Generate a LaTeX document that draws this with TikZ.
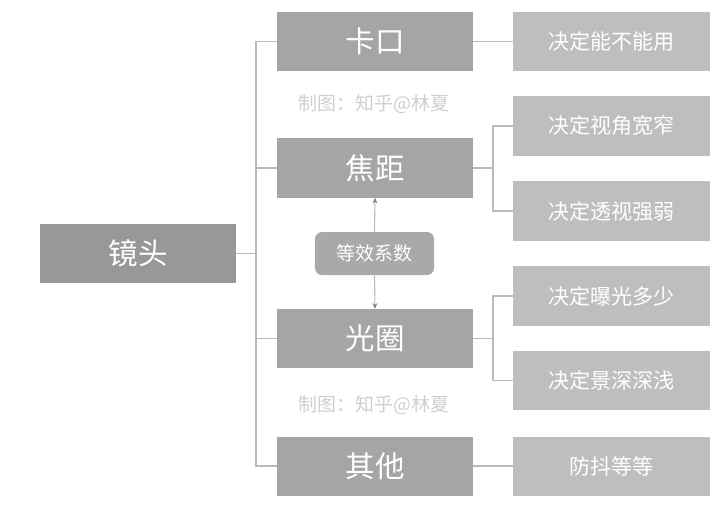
\documentclass[tikz,border=0pt]{standalone}
\usepackage{fontspec}
\setmainfont{Noto Sans CJK SC}
\usetikzlibrary{arrows.meta}

\definecolor{lensgray}{HTML}{989898}
\definecolor{maingray}{HTML}{A5A5A5}
\definecolor{subgray}{HTML}{BEBEBE}
\definecolor{eqgray}{HTML}{A9A9A9}
\definecolor{linegray}{HTML}{BBBBBB}
\definecolor{markgray}{HTML}{CFCFCF}

\begin{document}
\begin{tikzpicture}[x=0.025cm, y=-0.025cm,
	box/.style={inner sep=0pt, text=white, minimum width=4.9cm, minimum height=1.475cm},
	lensbox/.style={box, fill=lensgray, font=\fontsize{21}{24}\selectfont},
	mainbox/.style={box, fill=maingray, font=\fontsize{21}{24}\selectfont},
	subbox/.style={box, fill=subgray, font=\fontsize{15}{18}\selectfont},
	eqbox/.style={fill=eqgray, text=white, rounded corners=5pt, minimum width=2.975cm, minimum height=1.075cm, inner sep=0pt, font=\fontsize{13.5}{16}\selectfont},
	branch/.style={draw=linegray, line width=1.2pt},
	link/.style={draw=linegray, line width=0.8pt, -{Stealth[length=4pt, width=3.5pt, color=gray]}},
	watermark/.style={text=markgray, font=\fontsize{13.5}{16}\selectfont}]
	\useasboundingbox (0,0) rectangle (720,507);
	% root
	\node[lensbox] (lens) at (138,253.5) {镜头};
	% first level
	\node[mainbox] (mount) at (375,41.5) {卡口};
	\node[mainbox] (focal) at (375,168) {焦距};
	\node[mainbox] (aperture) at (375,338.5) {光圈};
	\node[mainbox] (other) at (375,466) {其他};
	% second level
	\node[subbox] (usable) at (611.5,41.5) {决定能不能用};
	\node[subbox] (angle) at (611.5,126) {决定视角宽窄};
	\node[subbox] (persp) at (611.5,211) {决定透视强弱};
	\node[subbox] (expo) at (611.5,296) {决定曝光多少};
	\node[subbox] (depth) at (611.5,380.5) {决定景深深浅};
	\node[subbox] (shake) at (611.5,466) {防抖等等};
	% equivalence factor
	\node[eqbox] (equiv) at (374.5,253.5) {等效系数};
	% watermarks
	\node[watermark] (markA) at (374,104) {制图：知乎@林夏};
	\node[watermark] (markB) at (374,405) {制图：知乎@林夏};
	% tree lines
	\coordinate (trunk) at (256,253.5);
	\coordinate (focalfork) at (493,168);
	\coordinate (aperturefork) at (493,338.5);
	\draw[branch] (lens.east) -- (trunk);
	\foreach \n in {mount,focal,aperture,other} {
		\draw[branch] (trunk) |- (\n.west);
	}
	\draw[branch] (mount.east) -- (usable.west);
	\draw[branch] (other.east) -- (shake.west);
	\draw[branch] (focal.east) -- (focalfork);
	\foreach \n in {angle,persp} {
		\draw[branch] (focalfork) |- (\n.west);
	}
	\draw[branch] (aperture.east) -- (aperturefork);
	\foreach \n in {expo,depth} {
		\draw[branch] (aperturefork) |- (\n.west);
	}
	% arrows
	\draw[link] (equiv.north) -- (focal.south);
	\draw[link] (equiv.south) -- (aperture.north);
\end{tikzpicture}
\end{document}
